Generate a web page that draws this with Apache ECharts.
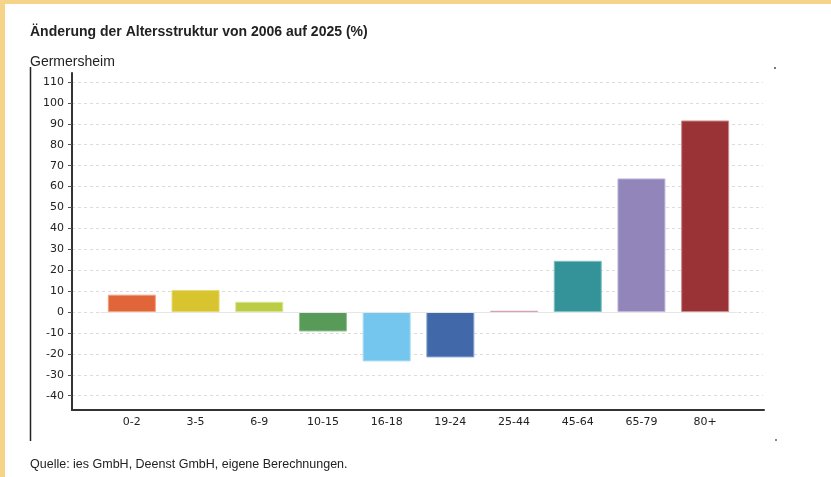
<!DOCTYPE html>
<html>
<head>
<meta charset="utf-8">
<script src="https://cdn.jsdelivr.net/npm/echarts@6/dist/echarts.min.js"></script>
<style>html,body{margin:0;padding:0;background:#fff;}#c{width:831px;height:477px;}</style>
</head>
<body>
<div id="c"></div>
<script>
var categories = ['0-2', '3-5', '6-9', '10-15', '16-18', '19-24', '25-44', '45-64', '65-79', '80+'];
var values = [8.3, 10.5, 4.9, -9.3, -23.6, -21.7, 0.6, 24.5, 63.9, 91.6];
var barColors = ['#e0663a', '#d8c42e', '#bccd45', '#589a58', '#74c6ee', '#4169a9', '#dca0b4', '#339399', '#9185ba', '#9a3336'];
var borderColors = ['#f0a080', '#e8d870', '#d8e490', '#90c090', '#a8dcf6', '#8aa6d4', '#dca0b4', '#7ec0c4', '#c0b8dc', '#d08a8c'];
var yMin = -40, yMax = 110, yStep = 10;

var chart = echarts.init(document.getElementById('c'), null, {renderer: 'canvas'});
var font = 'DejaVu Sans';
var option = {
  backgroundColor: '#ffffff',
  animation: false,
  title: [
    {text: 'Änderung der Altersstruktur von 2006 auf 2025 (%)', left: 30, top: 25, padding: 0,
     textStyle: {fontFamily: 'Liberation Sans', fontWeight: 'bold', fontSize: 14, color: '#222'}},
    {text: 'Germersheim', left: 30, top: 55, padding: 0,
     textStyle: {fontFamily: 'Liberation Sans', fontWeight: 'normal', fontSize: 14, color: '#222'}},
    {text: 'Quelle: ies GmbH, Deenst GmbH, eigene Berechnungen.', left: 30, top: 458, padding: 0,
     textStyle: {fontFamily: 'Liberation Sans', fontWeight: 'normal', fontSize: 12.5, color: '#222'}}
  ],
  graphic: [
    {type: 'rect', shape: {x: 0, y: 0, width: 831, height: 4}, style: {fill: '#f5d48a'}, silent: true},
    {type: 'rect', shape: {x: 0, y: 0, width: 5, height: 477}, style: {fill: '#f5d48a'}, silent: true},
    {type: 'line', shape: {x1: 30.5, y1: 67, x2: 30.5, y2: 441}, style: {stroke: '#222', lineWidth: 1.5}, silent: true},
    {type: 'rect', shape: {x: 774, y: 67, width: 2, height: 2}, style: {fill: '#777'}, silent: true},
    {type: 'rect', shape: {x: 775, y: 439, width: 2, height: 2}, style: {fill: '#888'}, silent: true}
  ],
  grid: [
    {left: 72, right: 68, top: 82, bottom: 81.3},
    {left: 100, right: 94, top: 82, bottom: 81.3},
    {left: 72, right: 67, top: 73, bottom: 67}
  ],
  xAxis: [
    {gridIndex: 0, type: 'value', show: false, min: 0, max: 1},
    {gridIndex: 1, type: 'category', data: categories, offset: 14,
     axisLine: {show: false}, axisTick: {show: false},
     axisLabel: {margin: 7, fontFamily: font, fontSize: 11, color: '#222'}},
    {gridIndex: 2, type: 'value', min: 0, max: 1,
     axisLine: {show: true, lineStyle: {color: '#333', width: 2}},
     axisTick: {show: false}, axisLabel: {show: false}, splitLine: {show: false}}
  ],
  yAxis: [
    {gridIndex: 0, type: 'value', min: yMin, max: yMax, interval: yStep,
     axisLine: {show: false},
     axisTick: {show: true, length: 4, lineStyle: {color: '#555'}},
     axisLabel: {margin: 8, fontFamily: font, fontSize: 11, color: '#222'},
     splitLine: {show: true, lineStyle: {color: '#dcdcdc', type: [3, 3], width: 1}}},
    {gridIndex: 1, type: 'value', min: yMin, max: yMax, interval: yStep, show: false},
    {gridIndex: 2, type: 'value', min: 0, max: 1,
     axisLine: {show: true, lineStyle: {color: '#333', width: 2}},
     axisTick: {show: false}, axisLabel: {show: false}, splitLine: {show: false}}
  ],
  series: [{
    type: 'bar',
    xAxisIndex: 1, yAxisIndex: 1,
    barWidth: 48,
    data: values.map(function (v, i) {
      return {value: v, itemStyle: {color: barColors[i], borderColor: borderColors[i], borderWidth: 1}};
    }),
    markLine: {
      silent: true, symbol: 'none', label: {show: false},
      lineStyle: {color: '#e6e6e6', type: 'solid', width: 1},
      data: [{yAxis: 0}]
    },
    z: 3
  }]
};
chart.setOption(option);
</script>
</body>
</html>
